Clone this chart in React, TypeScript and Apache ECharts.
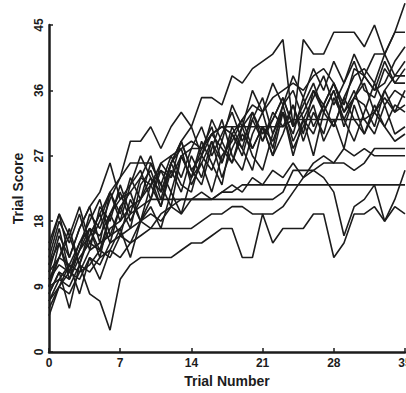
import React, { useEffect, useRef } from "react";
import * as echarts from "echarts";

const trials: number[] = Array.from({ length: 36 }, (_, i) => i);
const xTicks = [0, 7, 14, 21, 28, 35];
const yTicks = [0, 9, 18, 27, 36, 45];

const s01 = [10,12,11,14,16,19,22,24,29,29,31,28,31,33,31,35,35,34,38,37,39,40,41,43,31,43,41,41,44,44,44,42,45,41,44,44];
const s02 = [9,13,12,15,17,16,19,21,22,24,23,26,27,28,29,28,30,31,30,32,34,33,35,36,37,36,38,39,37,34,39,38,41,41,44,48];
const s03 = [8,11,10,13,15,14,17,18,20,21,23,25,24,27,28,28,30,31,31,31,31,31,31,31,32,32,32,32,32,32,32,32,33,36,38,40];
const s04 = [9,10,12,11,14,15,16,17,19,20,21,21,21,21,21,21,21,22,22,23,23,23,23,23,23,23,23,23,23,23,23,23,23,23,23,23];
const s05 = [8,11,6,12,8,7,3,10,12,13,13,13,13,14,15,15,16,17,17,13,13,19,15,17,17,17,19,19,13,15,19,19,20,18,20,19];
const s06 = [7,9,11,10,13,12,15,16,15,18,17,19,20,19,21,22,21,22,23,22,24,23,25,24,26,24,25,24,22,16,20,21,23,18,21,25];
const s07 = [6,9,8,11,12,14,13,16,17,18,19,18,20,21,21,21,21,21,21,21,21,21,21,22,25,25,25,26,26,26,25,26,28,28,28,28];
const s08 = [7,10,9,12,11,13,14,13,15,16,17,17,17,17,17,18,19,19,20,20,19,19,19,20,22,24,26,27,26,28,27,28,27,27,27,27];
const s09 = [11,16,13,17,20,22,26,21,23,27,24,22,26,29,25,27,30,28,26,31,33,29,32,35,31,33,36,34,37,33,35,38,36,37,40,42];
const s10 = [12,15,10,14,19,17,21,24,26,26,26,23,27,24,28,31,27,30,33,29,32,35,30,34,36,32,35,38,34,37,40,36,35,39,37,39];
const s11 = [10,13,17,12,16,19,15,20,22,18,21,25,22,27,24,28,31,26,30,27,32,29,33,31,34,30,36,33,31,35,38,39,37,41,38,38];
const s12 = [13,18,15,19,14,20,18,23,19,24,27,22,26,29,25,23,28,32,27,25,30,33,28,34,29,32,27,33,36,31,35,34,31,36,33,36];
const s13 = [15,19,13,17,20,15,22,19,24,21,26,23,20,27,24,29,26,23,30,28,25,31,27,30,34,29,33,30,35,32,29,33,37,34,36,35];
const s14 = [12,17,11,15,18,21,16,20,17,23,25,21,26,28,23,26,29,24,28,31,27,25,30,33,28,31,34,29,32,28,34,30,33,31,34,33];
const s15 = [5,9,12,8,13,10,14,17,13,18,20,17,22,19,24,26,22,27,29,32,28,31,27,33,30,35,31,34,37,33,36,32,30,34,30,31];
const s16 = [14,19,16,20,15,18,22,18,23,25,21,26,24,29,31,27,32,29,34,31,36,33,37,34,38,35,39,36,40,37,41,38,36,40,37,37];
const s17 = [11,13,16,12,17,14,19,16,21,18,23,20,25,22,27,24,29,26,31,28,33,30,32,35,31,34,37,33,36,32,35,37,33,35,33,34];
const s18 = [9,15,11,14,17,13,19,22,18,21,24,20,26,23,22,27,25,29,26,30,28,31,29,33,27,32,30,34,31,35,32,30,34,31,29,30];

const allSeries = [s01,s02,s03,s04,s05,s06,s07,s08,s09,s10,s11,s12,s13,s14,s15,s16,s17,s18];

const INK = "#1c1c1c";
const FONT = "Liberation Sans";

export default function App() {
  const ref = useRef<HTMLDivElement>(null);
  useEffect(() => {
    if (!ref.current) return;
    const chart = echarts.init(ref.current, null, { renderer: "svg" });
    chart.setOption({
      animation: false,
      grid: { left: 49, right: 15, top: 25, bottom: 41, containLabel: false },
      xAxis: {
        type: "value",
        min: xTicks[0],
        max: xTicks[xTicks.length - 1],
        interval: 7,
        name: "Trial Number",
        nameLocation: "middle",
        nameGap: 19,
        nameTextStyle: { color: INK, fontFamily: FONT, fontWeight: "bold", fontSize: 14 },
        axisLine: { lineStyle: { color: INK, width: 2.5 } },
        axisTick: { inside: true, length: 4, lineStyle: { color: INK, width: 1.5 } },
        axisLabel: {
          color: INK, fontFamily: FONT, fontWeight: "bold", fontSize: 12, margin: 5,
          alignMinLabel: "center", alignMaxLabel: "center",
        },
        splitLine: { show: false },
      },
      yAxis: {
        type: "value",
        min: yTicks[0],
        max: yTicks[yTicks.length - 1],
        interval: 9,
        name: "Trial Score",
        nameLocation: "middle",
        nameGap: 23,
        nameRotate: 90,
        nameTextStyle: { color: INK, fontFamily: FONT, fontWeight: "bold", fontSize: 14 },
        axisLine: { show: true, lineStyle: { color: INK, width: 2.5 } },
        axisTick: { show: true, inside: true, length: 4, lineStyle: { color: INK, width: 1.5 } },
        axisLabel: { color: INK, fontFamily: FONT, fontWeight: "bold", fontSize: 12, rotate: 90, margin: 4 },
        splitLine: { show: false },
      },
      series: allSeries.map((vals, i) => ({
        type: "line",
        name: "s" + (i + 1),
        data: trials.map((t, j) => [t, vals[j]]),
        showSymbol: false,
        symbol: "none",
        lineStyle: { color: INK, width: 1.6 },
        clip: false,
      })),
    });
    return () => chart.dispose();
  }, []);
  return (
    <div style={{ position: "fixed", left: 0, top: 0, width: 406, height: 393, overflow: "hidden", background: "#fff" }}>
      <div ref={ref} style={{ position: "absolute", left: 0, top: 0, width: 420, height: 393 }} />
    </div>
  );
}
